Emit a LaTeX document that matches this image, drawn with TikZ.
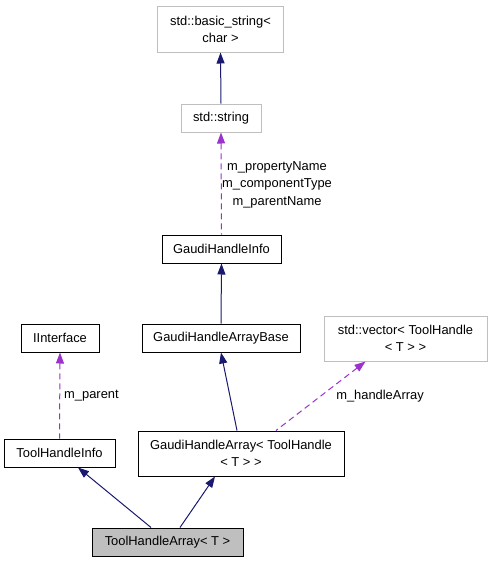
\documentclass[tikz,border=0pt]{standalone}
\usepackage{fontspec}
\setmainfont{Liberation Sans}
\usetikzlibrary{arrows.meta}
\definecolor{navy}{HTML}{191970}
\definecolor{orchid}{HTML}{9A32CD}
\definecolor{boxgray}{HTML}{BFBFBF}
\begin{document}
\begin{tikzpicture}[x=1pt,y=-1pt,
  every node/.style={font=\fontsize{12.9}{16.8}\selectfont, inner sep=0pt, align=center},
  cls/.style={draw=black, line width=1pt, fill=white},
  ext/.style={draw=boxgray, line width=1pt, fill=white},
  inh/.style={draw=navy, line width=1pt, {Triangle[length=11pt,width=8pt]}-},
  use/.style={draw=orchid, line width=1pt, dash pattern=on 6pt off 4pt, {Triangle[length=11pt,width=8pt]}-},
  lbl/.style={font=\fontsize{12.9}{17.5}\selectfont}]
\useasboundingbox (0,0) rectangle (492,563);
\node[ext, minimum width=126pt, minimum height=46pt] (bs) at (220.5,29) {std::basic\_string<\\char >};
\node[ext, minimum width=80pt, minimum height=28pt] (str) at (221,118) {std::string};
\node[cls, minimum width=119pt, minimum height=28pt] (ghi) at (221.5,249) {GaudiHandleInfo};
\node[cls, minimum width=78pt, minimum height=28pt] (ii) at (60,338) {IInterface};
\node[cls, minimum width=158pt, minimum height=28pt] (ghab) at (221,338) {GaudiHandleArrayBase};
\node[ext, minimum width=163pt, minimum height=45pt] (vec) at (405.5,338.5) {std::vector< ToolHandle\\< T > >};
\node[cls, minimum width=111pt, minimum height=28pt] (thi) at (59.5,453) {ToolHandleInfo};
\node[cls, minimum width=206pt, minimum height=45pt] (gha) at (241,453.5) {GaudiHandleArray< ToolHandle\\< T > >};
\node[cls, fill=boxgray, minimum width=151pt, minimum height=28pt] (tha) at (167.5,542) {ToolHandleArray< T >};

\draw[inh] (bs.south) -- (str.north);
\draw[use] (str.south) -- (ghi.north);
\node[lbl, anchor=north] (l1) at (277,161) {m\_propertyName\\m\_componentType\\m\_parentName};
\draw[inh] (ghi.south) -- (ghab.north);
\draw[use] (ii.south) -- (thi.north);
\node[lbl, anchor=west] (l2) at (64,396) {m\_parent};
\draw[inh] (ghab.south) -- ([xshift=-4pt]gha.north);
\draw[use] ([xshift=-40pt]vec.south) -- ([xshift=35pt]gha.north);
\node[lbl] (l3) at (380,396) {m\_handleArray};
\draw[inh] ([xshift=18.5pt]thi.south) -- ([xshift=-16.5pt]tha.north);
\draw[inh] ([xshift=-26pt]gha.south) -- ([xshift=12.5pt]tha.north);
\end{tikzpicture}
\end{document}
